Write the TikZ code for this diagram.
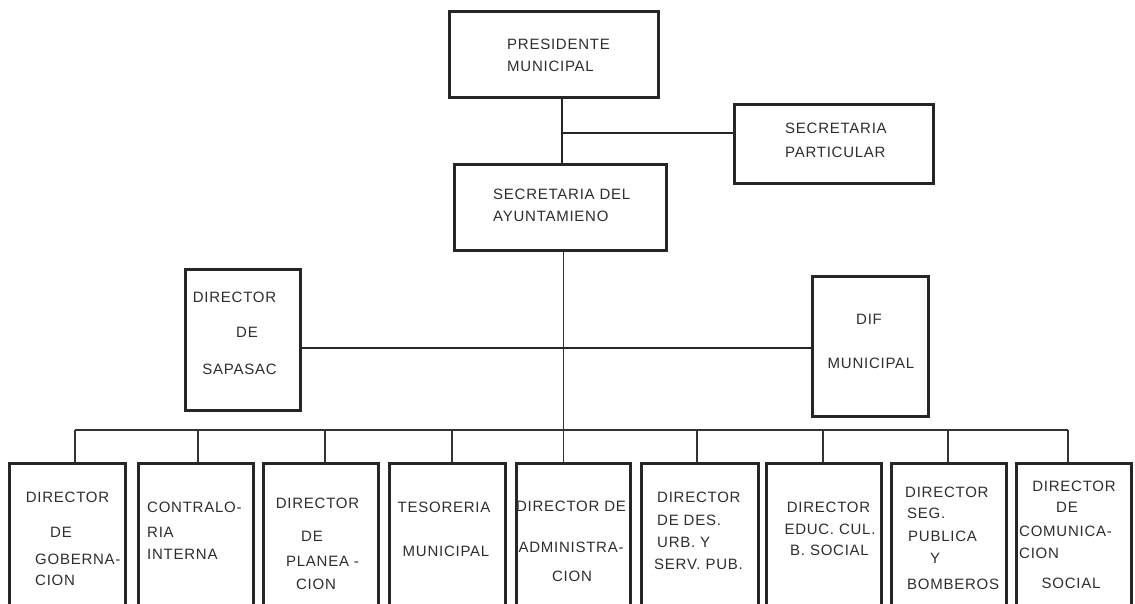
\documentclass[tikz,border=0pt]{standalone}
\usepackage{fontspec}
\newfontfamily\orgfont[LetterSpace=5]{Liberation Sans}
\begin{document}
\begin{tikzpicture}[x=1pt,y=-1pt,
  box/.style={draw=black!85, line width=2.6pt, inner sep=0pt},
  txt/.style={font=\orgfont\fontsize{15}{17}\selectfont, inner sep=0pt, text=black!82},
  conn/.style={draw=black!85, line width=2.4pt},
  midline/.style={draw=black!80, line width=1pt},
  hline/.style={draw=black!85, line width=1.8pt},
  busline/.style={draw=black!80, line width=1.6pt},
  drop/.style={draw=black!80, line width=1.1pt}]
\useasboundingbox (0,0) rectangle (1135,603);
\clip (0,0) rectangle (1135,603);
\fill[white] (0,0) rectangle (1135,603);
% boxes
\node[box, minimum width=209.4pt, minimum height=86.4pt] (pres) at (554,54.5) {};
\node[box, minimum width=199.4pt, minimum height=79.4pt] (secp) at (834,144) {};
\node[box, minimum width=212.4pt, minimum height=86.4pt] (ayunt) at (560.5,207.5) {};
\node[box, minimum width=115.4pt, minimum height=141.4pt] (sapasac) at (243,340) {};
\node[box, minimum width=116.4pt, minimum height=140.4pt] (dif) at (870.5,346.5) {};
\node[box, minimum width=116.4pt, minimum height=156.7pt] (b1) at (67.5,541.6) {};
\node[box, minimum width=115.4pt, minimum height=156.7pt] (b2) at (196,541.6) {};
\node[box, minimum width=115.4pt, minimum height=156.7pt] (b3) at (321,541.6) {};
\node[box, minimum width=116.4pt, minimum height=156.7pt] (b4) at (447.5,541.6) {};
\node[box, minimum width=114.4pt, minimum height=156.7pt] (b5) at (573.5,541.6) {};
\node[box, minimum width=117.4pt, minimum height=156.7pt] (b6) at (700,541.6) {};
\node[box, minimum width=115.4pt, minimum height=156.7pt] (b7) at (824,541.6) {};
\node[box, minimum width=115.4pt, minimum height=156.7pt] (b8) at (949,541.6) {};
\node[box, minimum width=115.4pt, minimum height=156.7pt] (b9) at (1074,541.6) {};
% texts
\node[txt, anchor=west] (t1) at (507,44) {PRESIDENTE};
\node[txt, anchor=west] (t2) at (507,66) {MUNICIPAL};
\node[txt, anchor=west] (t3) at (785,128) {SECRETARIA};
\node[txt, anchor=west] (t4) at (785,152) {PARTICULAR};
\node[txt, anchor=west] (t5) at (493,194) {SECRETARIA DEL};
\node[txt, anchor=west] (t6) at (493,216) {AYUNTAMIENO};
\node[txt] (t7) at (234.5,297.5) {DIRECTOR};
\node[txt] (t8) at (247,332) {DE};
\node[txt] (t9) at (239.5,369) {SAPASAC};
\node[txt] (t10) at (869,319) {DIF};
\node[txt] (t11) at (871,363) {MUNICIPAL};
\node[txt] (b1a) at (67.5,497.5) {DIRECTOR};
\node[txt] (b1b) at (61,532) {DE};
\node[txt, anchor=west] (b1c) at (35,559) {GOBERNA-};
\node[txt, anchor=west] (b1d) at (35,580) {CION};
\node[txt, anchor=west] (b2a) at (147,507.5) {CONTRALO-};
\node[txt, anchor=west] (b2b) at (147,532) {RIA};
\node[txt, anchor=west] (b2c) at (147,554) {INTERNA};
\node[txt] (b3a) at (317.5,503) {DIRECTOR};
\node[txt] (b3b) at (312,536) {DE};
\node[txt] (b3c) at (322.5,561) {PLANEA -};
\node[txt] (b3d) at (316,584) {CION};
\node[txt] (b4a) at (444,507.5) {TESORERIA};
\node[txt] (b4b) at (446,551) {MUNICIPAL};
\node[txt] (b5a) at (571,506) {DIRECTOR DE};
\node[txt] (b5b) at (571,547.5) {ADMINISTRA-};
\node[txt] (b5c) at (572,576) {CION};
\node[txt, anchor=west] (b6a) at (657,497) {DIRECTOR};
\node[txt, anchor=west] (b6b) at (657,520) {DE DES.};
\node[txt, anchor=west] (b6c) at (657,542) {URB. Y};
\node[txt] (b6d) at (698.5,564) {SERV. PUB.};
\node[txt] (b7a) at (828.5,507.5) {DIRECTOR};
\node[txt] (b7b) at (830,529) {EDUC. CUL.};
\node[txt] (b7c) at (829.5,550) {B. SOCIAL};
\node[txt, anchor=west] (b8a) at (905,492.5) {DIRECTOR};
\node[txt, anchor=west] (b8b) at (907,513) {SEG.};
\node[txt, anchor=west] (b8c) at (908,536) {PUBLICA};
\node[txt] (b8d) at (935,558) {Y};
\node[txt, anchor=west] (b8e) at (907,584) {BOMBEROS};
\node[txt] (b9a) at (1074,486) {DIRECTOR};
\node[txt] (b9b) at (1067,507) {DE};
\node[txt, anchor=west] (b9c) at (1019,531) {COMUNICA-};
\node[txt, anchor=west] (b9d) at (1019,553) {CION};
\node[txt] (b9e) at (1071,583) {SOCIAL};
% connectors
\coordinate (j1) at (562,133);
\draw[conn] (pres.south -| j1) -- (ayunt.north -| j1);
\draw[conn] (j1) -- (j1 -| secp.west);
\coordinate (m) at (563,348);
\coordinate (busc) at (563,430);
\draw[midline] (ayunt.south -| busc) -- (b5.north -| busc);
\draw[hline] (m -| sapasac.east) -- (m -| dif.west);
\coordinate (d1) at (75,430);
\coordinate (d2) at (198,430);
\coordinate (d3) at (325,430);
\coordinate (d4) at (452,430);
\coordinate (d6) at (697,430);
\coordinate (d7) at (823,430);
\coordinate (d8) at (948,430);
\coordinate (d9) at (1068,430);
\draw[busline] (d1) -- (d9);
\draw[drop] (d1) -- (d1 |- b1.north);
\draw[drop] (d2) -- (d2 |- b2.north);
\draw[drop] (d3) -- (d3 |- b3.north);
\draw[drop] (d4) -- (d4 |- b4.north);
\draw[drop] (d6) -- (d6 |- b6.north);
\draw[drop] (d7) -- (d7 |- b7.north);
\draw[drop] (d8) -- (d8 |- b8.north);
\draw[drop] (d9) -- (d9 |- b9.north);
\end{tikzpicture}
\end{document}
